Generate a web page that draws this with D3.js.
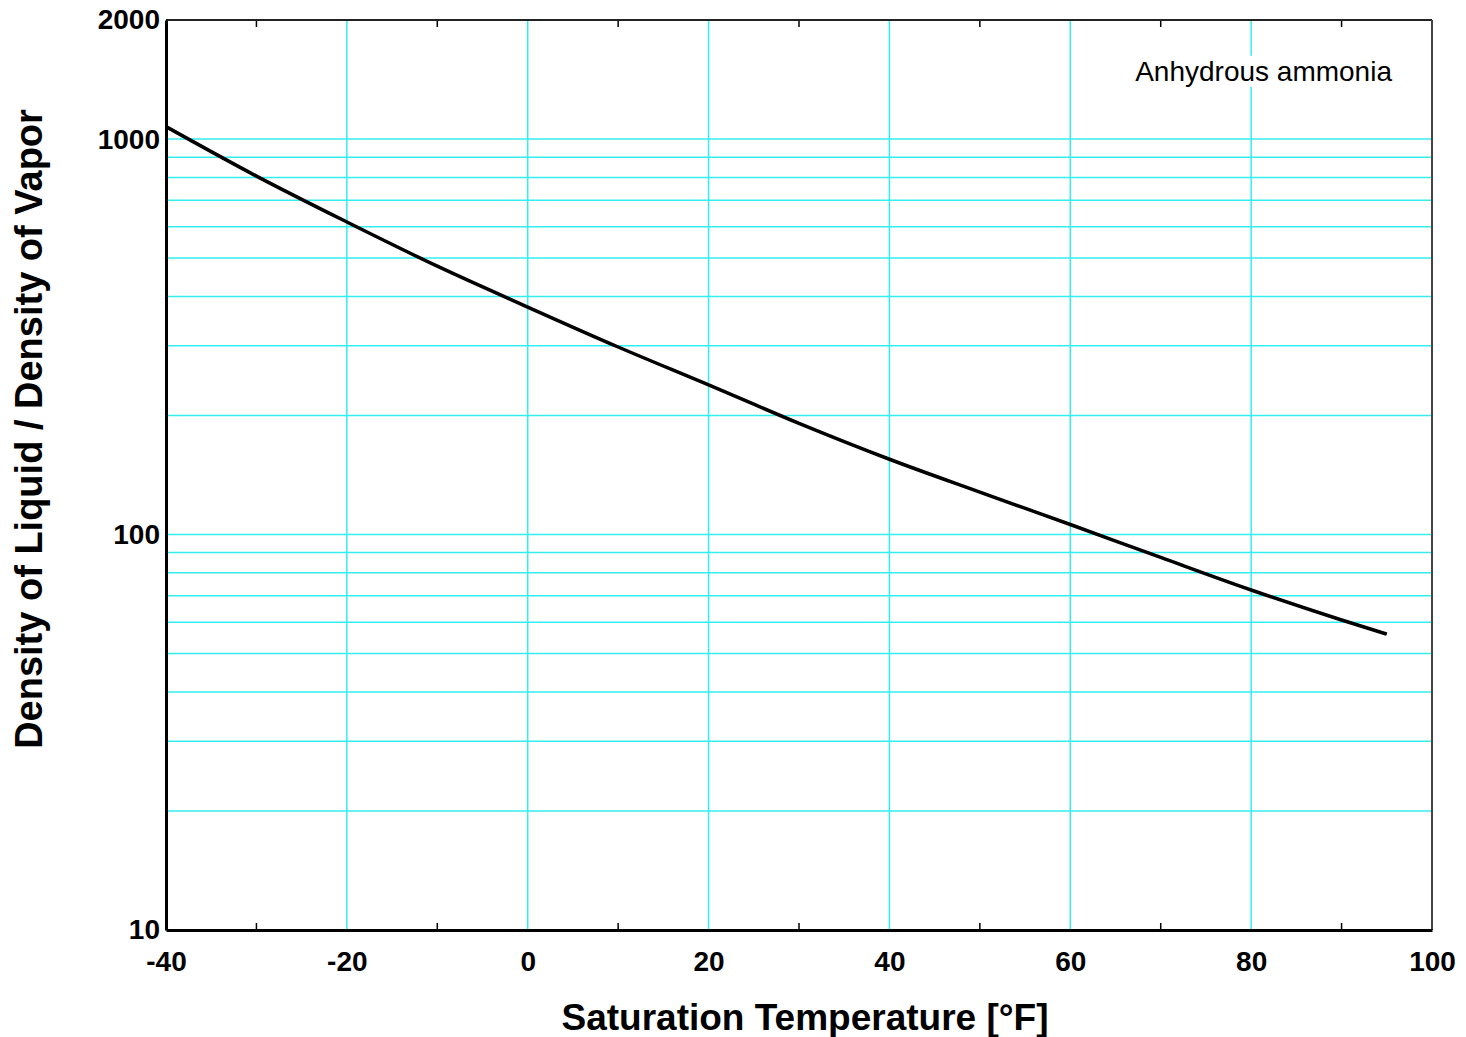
<!DOCTYPE html>
<html>
<head>
<meta charset="utf-8">
<script src="https://cdn.jsdelivr.net/npm/d3@7"></script>
<style>
  body { margin: 0; background: #fff; }
  text { font-family: "Liberation Sans", Arial, sans-serif; }
</style>
</head>
<body>
<svg id="chart"></svg>
<script>
/* Data */
const temps = [-40, -30, -20, -10, 0, 10, 20, 30, 40, 50, 60, 70, 80, 90, 95];
const ratios = [1075, 806, 617, 477, 376, 298, 239, 191, 155, 128, 106, 87.5, 72.4, 60.8, 56];

const xTicks = [-40, -20, 0, 20, 40, 60, 80, 100];
const xMinorTicks = [-30, -10, 10, 30, 50, 70, 90];
const yTicks = [10, 100, 1000, 2000];
const yGrid = [20, 30, 40, 50, 60, 70, 80, 90, 100, 200, 300, 400, 500, 600, 700, 800, 900, 1000];

/* Dimensions */
const margin = { top: 20, right: 34, bottom: 107, left: 166 };
const width = 1466 - margin.left - margin.right;
const height = 1037 - margin.top - margin.bottom;

const svg = d3.select("#chart")
    .attr("width", 1466)
    .attr("height", 1037)
  .append("g")
    .attr("transform", `translate(${margin.left},${margin.top})`);

/* Scales */
const x = d3.scaleLinear().domain([-40, 100]).range([0, width]);
const y = d3.scaleLog().domain([10, 2000]).range([height, 0]);

/* Grid */
svg.selectAll(".hgrid")
    .data(yGrid)
    .join("line")
      .attr("x1", 0).attr("x2", width)
      .attr("y1", d => y(d)).attr("y2", d => y(d))
      .attr("stroke", "#33eeee")
      .attr("stroke-width", 1.5);

svg.selectAll(".vgrid")
    .data(xTicks.slice(1, -1))
    .join("line")
      .attr("x1", d => x(d)).attr("x2", d => x(d))
      .attr("y1", 0).attr("y2", height)
      .attr("stroke", "#33eeee")
      .attr("stroke-width", 1.5);

/* Minor ticks top and bottom, inward */
const minor = svg.append("g");
minor.selectAll(".tb")
    .data(xMinorTicks)
    .join("line")
      .attr("x1", d => x(d)).attr("x2", d => x(d))
      .attr("y1", height).attr("y2", height - 7)
      .attr("stroke", "#000").attr("stroke-width", 1.5);
minor.selectAll(".tt")
    .data(xMinorTicks)
    .join("line")
      .attr("x1", d => x(d)).attr("x2", d => x(d))
      .attr("y1", 0).attr("y2", 7)
      .attr("stroke", "#000").attr("stroke-width", 1.5);

/* Frame */
svg.append("line").attr("x1", 0).attr("x2", width).attr("y1", 0).attr("y2", 0)
    .attr("stroke", "#222").attr("stroke-width", 2);
svg.append("line").attr("x1", width).attr("x2", width).attr("y1", 0).attr("y2", height)
    .attr("stroke", "#444").attr("stroke-width", 2);

/* Axes */
const xAxis = d3.axisBottom(x).tickValues(xTicks).tickSize(0).tickPadding(21)
    .tickFormat(d => String(d));
const gx = svg.append("g")
    .attr("transform", `translate(0,${height})`)
    .call(xAxis);
gx.select(".domain").attr("stroke", "#000").attr("stroke-width", 3);
gx.selectAll("text")
    .style("font-size", "28px").style("font-weight", "bold").attr("fill", "#000");

const yAxis = d3.axisLeft(y).tickValues(yTicks).tickSize(0).tickPadding(6)
    .tickFormat(d => String(d));
const gy = svg.append("g").call(yAxis);
gy.select(".domain").attr("stroke", "#000").attr("stroke-width", 3);
gy.selectAll("text")
    .style("font-size", "28px").style("font-weight", "bold").attr("fill", "#000");

/* Curve */
const line = d3.line()
    .x((d, i) => x(temps[i]))
    .y(d => y(d))
    .curve(d3.curveMonotoneX);

svg.append("path")
    .datum(ratios)
    .attr("fill", "none")
    .attr("stroke", "#000")
    .attr("stroke-width", 3.5)
    .attr("d", line);

/* Annotation with white background */
const note = svg.append("g").attr("transform", `translate(${width - 40},${51})`);
const noteText = note.append("text")
    .attr("text-anchor", "end")
    .attr("dy", "0.35em")
    .style("font-size", "28px")
    .attr("fill", "#000")
    .text("Anhydrous ammonia");
const bb = noteText.node().getBBox();
note.insert("rect", "text")
    .attr("x", bb.x - 2).attr("y", bb.y)
    .attr("width", bb.width + 4).attr("height", bb.height)
    .attr("fill", "#fff");

/* Axis titles */
svg.append("text")
    .attr("text-anchor", "middle")
    .attr("x", 805 - margin.left)
    .attr("y", height + 100)
    .style("font-size", "37px").style("font-weight", "bold")
    .text("Saturation Temperature [°F]");

svg.append("text")
    .attr("text-anchor", "middle")
    .attr("transform", `translate(${42 - margin.left},${429 - margin.top}) rotate(-90)`)
    .style("font-size", "38px").style("font-weight", "bold")
    .text("Density of Liquid / Density of Vapor");
</script>
</body>
</html>
